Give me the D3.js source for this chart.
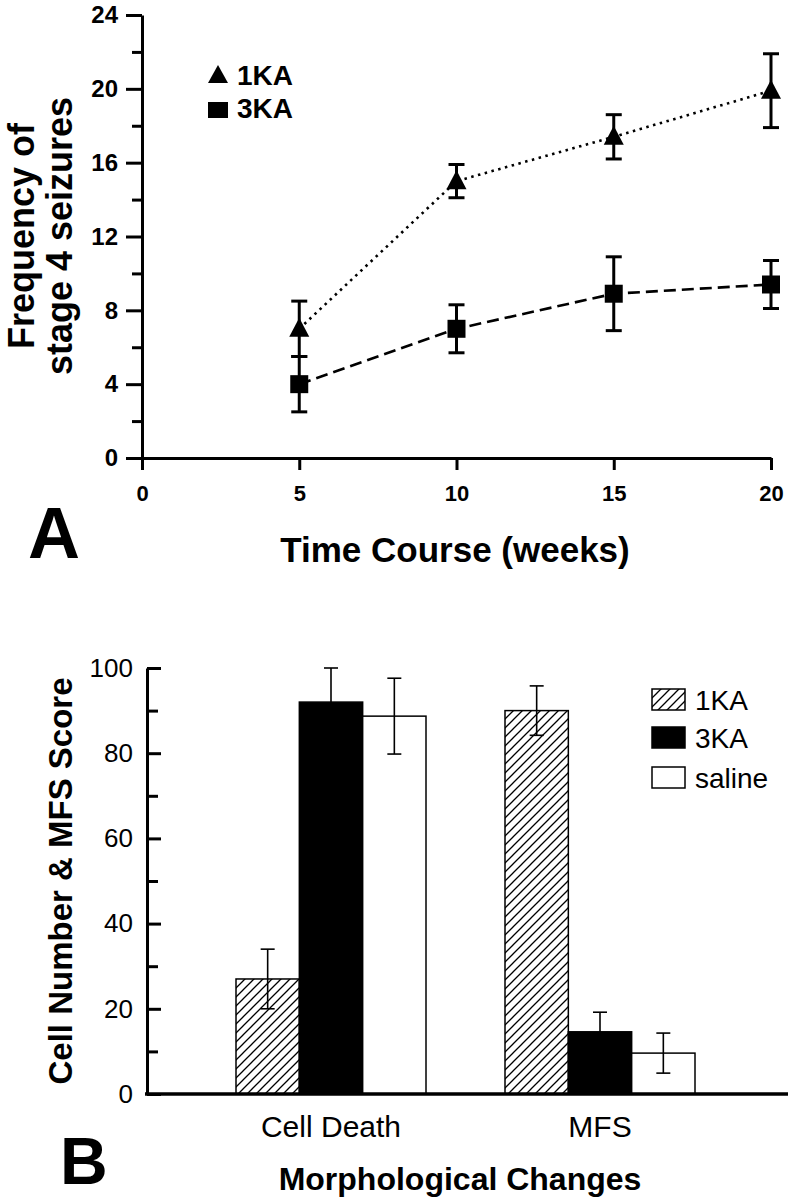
<!DOCTYPE html>
<html>
<head>
<meta charset="utf-8">
<script src="https://cdn.jsdelivr.net/npm/d3@7"></script>
<style>
  body { margin: 0; background: #fff; }
  svg { display: block; font-family: "Liberation Sans", Arial, sans-serif; }
</style>
</head>
<body>
<div class="container"></div>
<script>
// panel A: seizures over time
const weeks = [5, 10, 15, 20];
const ka1Mean = [7, 15, 17.4, 19.9];
const ka1Err = [1.5, 0.9, 1.2, 2];
const ka3Mean = [4, 7, 8.9, 9.4];
const ka3Err = [1.5, 1.3, 2, 1.3];
const yTicksA = [0, 4, 8, 12, 16, 20, 24];
const xTicksA = [0, 5, 10, 15, 20];

// panel B: morphological changes
const categories = ["Cell Death", "MFS"];
const groups = ["1KA", "3KA", "saline"];
const ka1Bars = [27, 90];
const ka1BarErr = [7, 5.8];
const ka3Bars = [92, 14.6];
const ka3BarErr = [8, 4.6];
const salineBars = [88.7, 9.6];
const salineBarErr = [8.9, 4.7];
const yTicksB = [0, 20, 40, 60, 80, 100];

const w = 791;
const h = 1199;

const svg = d3.select(".container").append("svg")
  .attr("width", w)
  .attr("height", h);

const defs = svg.append("defs");
defs.append("pattern")
  .attr("id", "hatch")
  .attr("patternUnits", "userSpaceOnUse")
  .attr("width", 9)
  .attr("height", 9)
  .append("path")
  .attr("d", "M-1,1 l2,-2 M0,9 l9,-9 M8,10 l2,-2")
  .attr("stroke", "#000")
  .attr("stroke-width", 1.3);

// ---------- panel A ----------
const xA = d3.scaleLinear().domain([0, 20]).range([142, 771]);
const yA = d3.scaleLinear().domain([0, 24]).range([458, 15]);

const yAxisA = svg.append("g")
  .attr("transform", "translate(142,0)")
  .call(d3.axisLeft(yA).tickValues(yTicksA).tickSize(16).tickSizeOuter(0).tickPadding(8));
svg.append("g")
  .attr("transform", "translate(142,0)")
  .call(d3.axisLeft(yA).tickValues([2, 6, 10, 14, 18, 22]).tickSize(10).tickFormat(""))
  .call(g => g.select(".domain").remove());

const xAxisA = svg.append("g")
  .attr("transform", "translate(0,458)")
  .call(d3.axisBottom(xA).tickValues(xTicksA).tickSize(12).tickSizeOuter(0).tickPadding(15));

svg.selectAll(".tick line, .domain")
  .attr("stroke", "#000")
  .attr("stroke-width", 3);
yAxisA.selectAll("text")
  .attr("font-size", 24).attr("font-weight", "bold").attr("fill", "#000")
  .attr("font-family", "Liberation Sans, Arial, sans-serif");
xAxisA.selectAll("text")
  .attr("font-size", 22).attr("font-weight", "bold").attr("fill", "#000")
  .attr("font-family", "Liberation Sans, Arial, sans-serif");

const series = [
  { name: "1KA", mean: ka1Mean, err: ka1Err, dash: "2.5,4.5", marker: "tri" },
  { name: "3KA", mean: ka3Mean, err: ka3Err, dash: "12,6", marker: "sq" }
];

series.forEach(s => {
  const pts = weeks.map((wk, i) => ({ x: wk, y: s.mean[i], e: s.err[i] }));
  svg.append("path")
    .datum(pts)
    .attr("fill", "none")
    .attr("stroke", "#000")
    .attr("stroke-width", 2.6)
    .attr("stroke-dasharray", s.dash)
    .attr("d", d3.line().x(d => xA(d.x)).y(d => yA(d.y)));

  const eb = svg.append("g");
  pts.forEach(d => {
    const cx = xA(d.x);
    eb.append("line").attr("x1", cx).attr("x2", cx)
      .attr("y1", yA(d.y - d.e)).attr("y2", yA(d.y + d.e))
      .attr("stroke", "#000").attr("stroke-width", 3);
    [d.y - d.e, d.y + d.e].forEach(v => {
      eb.append("line").attr("x1", cx - 8).attr("x2", cx + 8)
        .attr("y1", yA(v)).attr("y2", yA(v))
        .attr("stroke", "#000").attr("stroke-width", 3);
    });
  });

  svg.selectAll(null)
    .data(pts)
    .enter()
    .append("path")
    .attr("transform", d => `translate(${xA(d.x)},${yA(d.y)})`)
    .attr("d", s.marker === "tri" ? "M0,-11 L10,8 L-10,8 Z" : "M-9,-9 H9 V9 H-9 Z")
    .attr("fill", "#000");
});

// legend A
const legA = svg.append("g");
legA.append("path").attr("d", "M218,65 L228,83 L208,83 Z").attr("fill", "#000");
legA.append("rect").attr("x", 208).attr("y", 102).attr("width", 20).attr("height", 16).attr("fill", "#000");
legA.append("text").attr("x", 237).attr("y", 85).text("1KA")
  .attr("font-size", 28).attr("font-weight", "bold");
legA.append("text").attr("x", 237).attr("y", 118).text("3KA")
  .attr("font-size", 28).attr("font-weight", "bold");

// titles A
const yTitleA = svg.append("text")
  .attr("transform", "translate(0,236) rotate(-90)")
  .attr("text-anchor", "middle")
  .attr("font-size", 36)
  .attr("font-weight", "bold");
yTitleA.append("tspan").attr("x", 0).attr("y", 34).text("Frequency of");
yTitleA.append("tspan").attr("x", 0).attr("y", 72).text("stage 4 seizures");

svg.append("text")
  .attr("x", 455).attr("y", 562)
  .attr("text-anchor", "middle")
  .attr("font-size", 35).attr("font-weight", "bold")
  .text("Time Course (weeks)");

svg.append("text")
  .attr("x", 28).attr("y", 558)
  .attr("font-size", 72).attr("font-weight", "bold")
  .text("A");

// ---------- panel B ----------
const xB = d3.scalePoint().domain(categories).range([331, 600]);
const xSub = d3.scaleBand().domain(groups).range([-95, 95]);
const yB = d3.scaleLinear().domain([0, 100]).range([1094, 668]);

const barData = [];
categories.forEach((c, i) => {
  barData.push({ cat: c, grp: "1KA", v: ka1Bars[i], e: ka1BarErr[i] });
  barData.push({ cat: c, grp: "3KA", v: ka3Bars[i], e: ka3BarErr[i] });
  barData.push({ cat: c, grp: "saline", v: salineBars[i], e: salineBarErr[i] });
});
const fills = { "1KA": "url(#hatch)", "3KA": "#000", "saline": "#fff" };

svg.selectAll(".bar")
  .data(barData)
  .enter()
  .append("rect")
  .attr("class", "bar")
  .attr("x", d => xB(d.cat) + xSub(d.grp))
  .attr("y", d => yB(d.v))
  .attr("width", xSub.bandwidth())
  .attr("height", d => yB(0) - yB(d.v))
  .attr("fill", d => fills[d.grp])
  .attr("stroke", "#000")
  .attr("stroke-width", 1.5);

const ebB = svg.append("g");
barData.forEach(d => {
  const cx = xB(d.cat) + xSub(d.grp) + xSub.bandwidth() / 2;
  ebB.append("line").attr("x1", cx).attr("x2", cx)
    .attr("y1", yB(d.v - d.e)).attr("y2", yB(d.v + d.e))
    .attr("stroke", "#000").attr("stroke-width", 1.6);
  [d.v - d.e, d.v + d.e].forEach(v => {
    ebB.append("line").attr("x1", cx - 7).attr("x2", cx + 7)
      .attr("y1", yB(v)).attr("y2", yB(v))
      .attr("stroke", "#000").attr("stroke-width", 1.6);
  });
});

const yAxisB = svg.append("g")
  .attr("transform", "translate(147,0)")
  .call(d3.axisRight(yB).tickValues(yTicksB).tickSize(14).tickSizeOuter(0));
yAxisB.selectAll("text")
  .attr("x", -14)
  .attr("text-anchor", "end")
  .attr("font-size", 26)
  .attr("fill", "#000")
  .attr("font-family", "Liberation Sans, Arial, sans-serif");
svg.append("g")
  .attr("transform", "translate(147,0)")
  .call(d3.axisRight(yB).tickValues([10, 30, 50, 70, 90]).tickSize(11).tickFormat(""))
  .call(g => g.select(".domain").remove());

svg.append("line")
  .attr("x1", 145).attr("x2", 788)
  .attr("y1", yB(0)).attr("y2", yB(0))
  .attr("stroke", "#000").attr("stroke-width", 3.5);

svg.selectAll(".tick line, .domain")
  .attr("stroke", "#000")
  .attr("stroke-width", 3);

svg.selectAll(".cat")
  .data(categories)
  .enter()
  .append("text")
  .attr("class", "cat")
  .attr("x", d => xB(d))
  .attr("y", 1137)
  .attr("text-anchor", "middle")
  .attr("font-size", 30)
  .text(d => d);

// legend B
const legB = svg.append("g");
groups.forEach((g, i) => {
  const yy = [689, 727, 767][i];
  legB.append("rect")
    .attr("x", 652).attr("y", yy).attr("width", 33).attr("height", 21)
    .attr("fill", fills[g]).attr("stroke", "#000").attr("stroke-width", 1.5);
  legB.append("text")
    .attr("x", 695).attr("y", yy + 21)
    .attr("font-size", 28)
    .text(g);
});

svg.append("text")
  .attr("transform", "translate(72,881) rotate(-90)")
  .attr("text-anchor", "middle")
  .attr("font-size", 33).attr("font-weight", "bold")
  .text("Cell Number & MFS Score");

svg.append("text")
  .attr("x", 460).attr("y", 1190)
  .attr("text-anchor", "middle")
  .attr("font-size", 32).attr("font-weight", "bold")
  .text("Morphological Changes");

svg.append("text")
  .attr("x", 60).attr("y", 1184)
  .attr("font-size", 66).attr("font-weight", "bold")
  .text("B");
</script>
</body>
</html>
